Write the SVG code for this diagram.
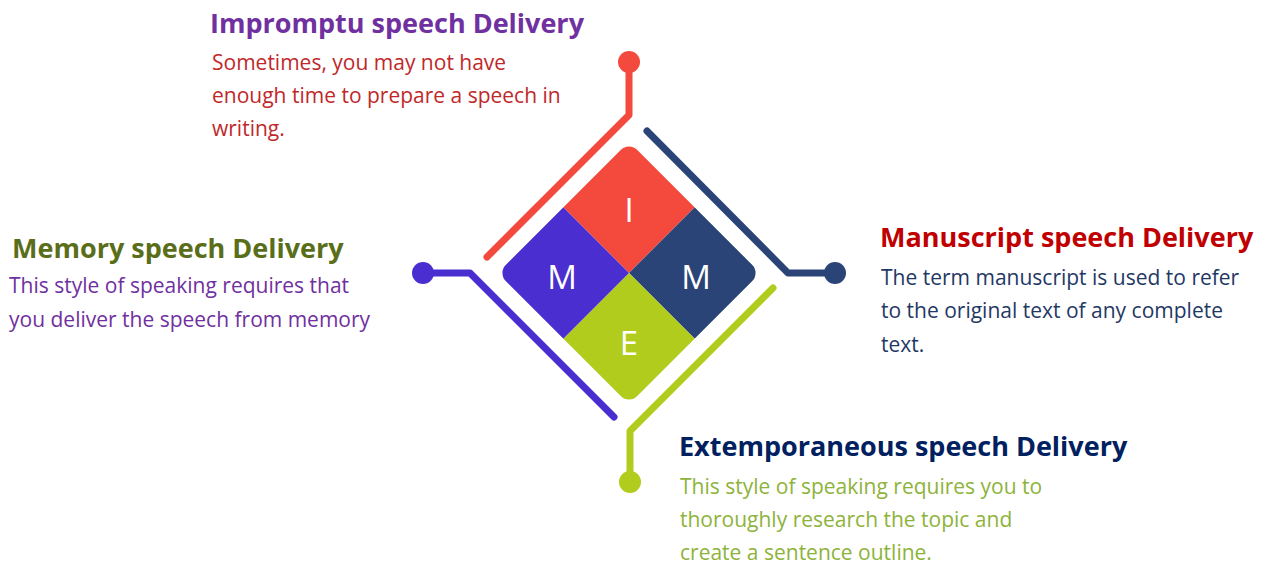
<svg xmlns="http://www.w3.org/2000/svg" width="1272" height="566" viewBox="0 0 1272 566">
<style>
.t{font-family:"Open Sans","Noto Sans","Liberation Sans",sans-serif;font-weight:700;font-size:27px}
.b{font-family:"Open Sans","Noto Sans","Liberation Sans",sans-serif;font-size:21px}
.c{fill:none;stroke-width:7;stroke-linecap:round;stroke-linejoin:round}
.l{font-family:"Open Sans","Noto Sans","Liberation Sans",sans-serif;font-size:33px;fill:#ffffff;text-anchor:middle}
</style>
<defs>
<clipPath id="dm"><rect x="536" y="180" width="186" height="186" rx="12" ry="12"/></clipPath>
</defs>
<rect width="1272" height="566" fill="#ffffff"/>
<g id="connectors">
<path class="c" stroke="#F44A3E" d="M629,62 V115 L487,257"/>
<circle cx="629" cy="62" r="11" fill="#F44A3E"/>
<path class="c" stroke="#2A4478" d="M647,131 L788,273 H835"/>
<circle cx="835" cy="273" r="11" fill="#2A4478"/>
<path class="c" stroke="#4B2ECF" d="M423,273 H470 L614,417"/>
<circle cx="423" cy="273" r="11" fill="#4B2ECF"/>
<path class="c" stroke="#B2CC1E" d="M773,288 L630,431 V482"/>
<circle cx="630" cy="482" r="11" fill="#B2CC1E"/>
</g>
<g id="diamond">
<g transform="rotate(45 629 273)" clip-path="url(#dm)">
<rect x="536" y="180" width="93" height="93" fill="#F44A3E"/>
<rect x="629" y="180" width="93" height="93" fill="#2A4478"/>
<rect x="629" y="273" width="93" height="93" fill="#B2CC1E"/>
<rect x="536" y="273" width="93" height="93" fill="#4B2ECF"/>
</g>
<text class="l" x="629" y="222">I</text>
<text class="l" x="562" y="289">M</text>
<text class="l" x="696" y="289">M</text>
<text class="l" x="629" y="355">E</text>
</g>
<g id="impromptu">
<text class="t" x="210" y="33" fill="#7030A0">Impromptu speech Delivery</text>
<text class="b" x="212" y="70" fill="#C0282A">Sometimes, you may not have</text>
<text class="b" x="212" y="103" fill="#C0282A">enough time to prepare a speech in</text>
<text class="b" x="212" y="136" fill="#C0282A">writing.</text>
</g>
<g id="memory">
<text class="t" x="12" y="258" fill="#5A6E1A">Memory speech Delivery</text>
<text class="b" x="9" y="293" fill="#7030A0">This style of speaking requires that</text>
<text class="b" x="9" y="327" fill="#7030A0">you deliver the speech from memory</text>
</g>
<g id="manuscript">
<text class="t" x="880" y="247" fill="#C00000">Manuscript speech Delivery</text>
<text class="b" x="881" y="285" fill="#1F3864">The term manuscript is used to refer</text>
<text class="b" x="881" y="318" fill="#1F3864">to the original text of any complete</text>
<text class="b" x="881" y="352" fill="#1F3864">text.</text>
</g>
<g id="extemporaneous">
<text class="t" x="679" y="456" fill="#002060">Extemporaneous speech Delivery</text>
<text class="b" x="680" y="494" fill="#8DB33A">This style of speaking requires you to</text>
<text class="b" x="680" y="527" fill="#8DB33A">thoroughly research the topic and</text>
<text class="b" x="680" y="560" fill="#8DB33A">create a sentence outline.</text>
</g>
</svg>
